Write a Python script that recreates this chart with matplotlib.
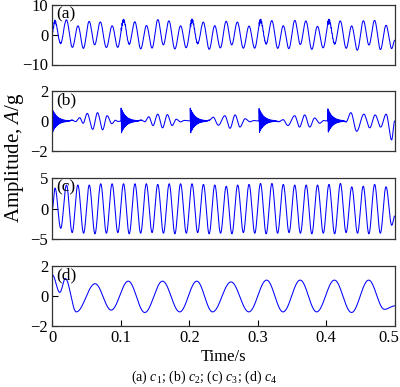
import numpy as np
import matplotlib
matplotlib.use("Agg")
import matplotlib.pyplot as plt
from matplotlib.transforms import ScaledTranslation

plt.rcParams['font.family'] = ['Liberation Serif', 'DejaVu Serif']
plt.rcParams['mathtext.fontset'] = 'custom'
plt.rcParams['mathtext.rm'] = 'Liberation Serif'
plt.rcParams['mathtext.it'] = 'Liberation Serif:italic'

# ---------------- data ----------------
panel_labels = ["(a)", "(b)", "(c)", "(d)"]
y_limits = [(-10, 10), (-2, 2), (-5, 5), (-2, 2)]
y_ticks = [[-10, 0, 10], [-2, 0, 2], [-5, 0, 5], [-2, 0, 2]]
x_ticks = [0, 0.1, 0.2, 0.3, 0.4, 0.5]
x_tick_labels = ["0", "0.1", "0.2", "0.3", "0.4", "0.5"]

# c2: slow wave packets between impacts (time, value) extrema
c2_extrema = [
    (0.000, 0.00), (0.024, 0.00), (0.029, 0.06), (0.034, -0.04), (0.040, 0.22),
    (0.045, -0.15), (0.051, 0.50), (0.059, -0.55), (0.066, 0.55), (0.0735, -0.58),
    (0.080, 0.35), (0.087, -0.18), (0.092, 0.05), (0.096, -0.03), (0.1005, 0.00),
    (0.124, 0.00), (0.130, 0.06), (0.135, -0.05), (0.141, 0.28), (0.147, -0.30),
    (0.154, 0.45), (0.161, -0.45), (0.168, 0.42), (0.175, -0.30), (0.181, 0.12),
    (0.187, -0.06), (0.193, 0.04), (0.2015, 0.00),
    (0.225, 0.00), (0.229, 0.05), (0.235, 0.25), (0.2425, -0.28), (0.252, 0.35),
    (0.2595, -0.48), (0.267, 0.40), (0.274, -0.40), (0.2815, 0.15), (0.2885, -0.05),
    (0.294, 0.03), (0.302, 0.00),
    (0.325, 0.00), (0.331, -0.04), (0.337, 0.09), (0.344, -0.30), (0.354, 0.35),
    (0.361, -0.40), (0.3685, 0.40), (0.376, -0.40), (0.383, 0.20), (0.3905, -0.15),
    (0.396, 0.03), (0.4025, 0.00),
    (0.425, 0.00), (0.429, -0.05), (0.436, 0.55), (0.4445, -0.68), (0.455, 0.45),
    (0.4635, -0.45), (0.4715, 0.40), (0.4795, -0.40), (0.4875, 0.45), (0.4955, -1.25),
    (0.500, 0.00),
]
# c2: impact bursts (time, amplitude)
burst_times = [0.0, 0.1005, 0.2015, 0.302, 0.4025]
burst_amps = [0.8, 0.85, 0.85, 0.82, 0.8]
burst_freq = 800.0
burst_decay = 0.007

# c3: ~60 Hz component, peaks and troughs
c3_peak_t = [0.004, 0.0207, 0.0373, 0.054, 0.0707, 0.0873, 0.104, 0.1207, 0.1373, 0.154,
             0.1707, 0.1873, 0.204, 0.2207, 0.2373, 0.254, 0.2707, 0.2873, 0.304, 0.3207,
             0.3373, 0.354, 0.3707, 0.3873, 0.404, 0.4207, 0.4373, 0.454, 0.4707, 0.4873]
c3_peak_v = [3.4, 3.9, 3.9, 3.9, 4.1, 4.1, 4.1, 4.1, 4.1, 4.0,
             4.1, 4.1, 4.1, 4.0, 3.9, 3.7, 3.9, 4.0, 4.15, 4.15,
             4.0, 3.9, 3.9, 3.9, 4.0, 4.15, 3.6, 3.7, 4.0, 3.6]
c3_trough_t = [0.0123, 0.029, 0.0457, 0.0623, 0.079, 0.0957, 0.1123, 0.129, 0.1457, 0.1623,
               0.179, 0.1957, 0.2123, 0.229, 0.2457, 0.2623, 0.279, 0.2957, 0.3123, 0.329,
               0.3457, 0.3623, 0.379, 0.3957, 0.4123, 0.429, 0.4457, 0.4623, 0.479, 0.4957]
c3_trough_v = [-3.2, -3.9, -4.0, -4.1, -4.0, -3.9, -4.1, -4.0, -3.9, -4.0,
               -4.1, -4.0, -3.9, -4.1, -4.0, -4.1, -3.9, -4.0, -4.1, -4.0,
               -3.9, -4.0, -4.1, -4.0, -4.1, -3.9, -4.0, -4.1, -4.0, -2.7]
c3_ends = [(0.0, 0.0), (0.5, -1.2)]

# c4: ~20 Hz component extrema
c4_extrema = [
    (0.000, 1.41), (0.011, 0.24), (0.019, 1.17), (0.035, -1.06), (0.0625, 0.82),
    (0.086, -0.94), (0.111, 0.99), (0.135, -1.10), (0.161, 0.99), (0.186, -1.06),
    (0.211, 0.99), (0.234, -1.06), (0.261, 0.94), (0.287, -1.06), (0.313, 1.06),
    (0.337, -1.06), (0.362, 1.06), (0.386, -1.06), (0.412, 1.06), (0.437, -1.10),
    (0.462, 1.06), (0.485, -0.89), (0.500, -0.66),
]


def smooth_through(tgrid, pts):
    pts = sorted(pts)
    tk = np.array([p[0] for p in pts])
    vk = np.array([p[1] for p in pts])
    idx = np.clip(np.searchsorted(tk, tgrid, side='right') - 1, 0, len(tk) - 2)
    s = np.clip((tgrid - tk[idx]) / (tk[idx + 1] - tk[idx]), 0, 1)
    return vk[idx] + (vk[idx + 1] - vk[idx]) * (1 - np.cos(np.pi * s)) / 2


t = np.linspace(0, 0.5, 20001)

c2 = smooth_through(t, c2_extrema)
for tb, a in zip(burst_times, burst_amps):
    dt = t - tb
    m = (dt >= 0) & (dt < 0.03)
    c2[m] += a * np.exp(-dt[m] / burst_decay) * np.sin(2 * np.pi * burst_freq * dt[m] + np.pi / 2)

c3_pts = list(zip(c3_peak_t, c3_peak_v)) + list(zip(c3_trough_t, c3_trough_v)) + c3_ends
c3 = smooth_through(t, c3_pts)
c4 = smooth_through(t, c4_extrema)
c1 = c2 + c3 + c4
signals = [c1, c2, c3, c4]

# ---------------- figure ----------------
fig = plt.figure(figsize=(4.0, 3.87), dpi=100)
W, H = 400.0, 387.0
left, right = 52.3, 394.7
tops = [5.0, 90.7, 178.3, 266.0]
bottoms = [64.5, 151.3, 239.3, 326.0]

for i in range(4):
    ax = fig.add_axes([left / W, 1 - bottoms[i] / H, (right - left) / W, (bottoms[i] - tops[i]) / H])
    ax.plot(t, signals[i], color='#0000ff', lw=0.75)
    ax.set_xlim(0, 0.5)
    ax.set_ylim(*y_limits[i])
    ax.set_yticks(y_ticks[i])
    ax.tick_params(direction='in', length=4, width=0.8, labelsize=12, pad=3)
    for sp in ax.spines.values():
        sp.set_linewidth(0.9)
        sp.set_color('#333333')
    if i < 3:
        ax.set_xticks([])
    else:
        ax.set_xticks(x_ticks)
        ax.set_xticklabels(x_tick_labels)
        last = ax.get_xticklabels()[-1]
        last.set_transform(last.get_transform() + ScaledTranslation(-6 / 100, 0, fig.dpi_scale_trans))
    ax.text(0.012, 0.98, panel_labels[i], transform=ax.transAxes, ha='left', va='top', fontsize=12.5)

fig.text((left + right) / 2 / W, 1 - 357 / H, "Time/s", ha='center', va='center', fontsize=12)
fig.text(204 / W, 1 - 377 / H, r"(a) $c_1$; (b) $c_2$; (c) $c_3$; (d) $c_4$",
         ha='center', va='center', fontsize=10)
fig.text(14 / W, 1 - 158 / H, r"Amplitude, $A$/g", rotation=90, ha='center', va='center', fontsize=15)

fig.savefig("out.png", dpi=100)
